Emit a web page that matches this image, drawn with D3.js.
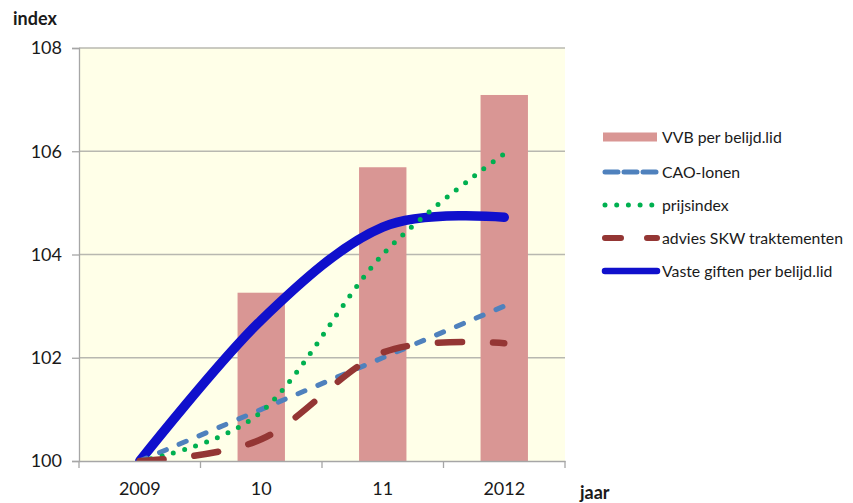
<!DOCTYPE html>
<html>
<head>
<meta charset="utf-8">
<script src="https://cdn.jsdelivr.net/npm/d3@7"></script>
<style>
  body { margin: 0; background: #fff; }
  text { font-family: Lato, "Open Sans", sans-serif; fill: #1a1a1a; }
</style>
</head>
<body>
<div id="chart"></div>
<script>
// categories and series
var years = ["2009", "10", "11", "2012"];
var vvb = [100, 103.26, 105.69, 107.09];
var caoLonen = [100, 101.0, 102.0, 103.0];
var prijsindex = [100, 100.95, 104.0, 105.95];
var adviesSKW = [100, 100.42, 102.1, 102.28];
var vasteGiften = [100, 102.73, 104.53, 104.72];
var yTicks = [100, 102, 104, 106, 108];

var width = 853, height = 503;
var plotLeft = 79, plotRight = 565, plotTop = 48, plotBottom = 461;

var svg = d3.select("#chart").append("svg")
    .attr("width", width)
    .attr("height", height);

var x = d3.scaleBand().domain(years).range([plotLeft, plotRight]);
var y = d3.scaleLinear().domain([100, 108]).range([plotBottom, plotTop]);
var cx = function(i){ return x(years[i]) + x.bandwidth() / 2; };

// plot area
svg.append("rect")
    .attr("x", plotLeft).attr("y", plotTop)
    .attr("width", plotRight - plotLeft).attr("height", plotBottom - plotTop)
    .attr("fill", "#FFFFE8");

svg.append("clipPath").attr("id", "plot")
    .append("rect")
    .attr("x", plotLeft).attr("y", plotTop)
    .attr("width", plotRight - plotLeft).attr("height", plotBottom - plotTop);

// gridlines
svg.selectAll(".grid")
    .data(yTicks.slice(1))
    .enter().append("line")
    .attr("x1", plotLeft).attr("x2", plotRight)
    .attr("y1", function(d){ return y(d); })
    .attr("y2", function(d){ return y(d); })
    .attr("stroke", "#B8B8B0")
    .attr("stroke-width", 1.5);

// bars
var barW = x.bandwidth() * 0.39;
svg.selectAll(".bar")
    .data(vvb)
    .enter().append("rect")
    .attr("class", "bar")
    .attr("x", function(d, i){ return cx(i) - barW / 2; })
    .attr("y", function(d){ return y(d); })
    .attr("width", barW)
    .attr("height", function(d){ return plotBottom - y(d); })
    .attr("fill", "#D99694");

// lines
var line = d3.line()
    .x(function(d, i){ return cx(i); })
    .y(function(d){ return y(d); })
    .curve(d3.curveCardinal.tension(0));

var g = svg.append("g").attr("clip-path", "url(#plot)");

var series = [
    {data: vasteGiften, color: "#1010CC", w: 9.5, dash: null},
    {data: caoLonen, color: "#4F81BD", w: 5, dash: "7.5,14"},
    {data: prijsindex, color: "#00B050", w: 5, dash: "0,11.6"},
    {data: adviesSKW, color: "#943634", w: 6.5, dash: "24,31"}
];

series.forEach(function(s){
    g.append("path")
        .attr("d", line(s.data))
        .attr("fill", "none")
        .attr("stroke", s.color)
        .attr("stroke-width", s.w)
        .attr("stroke-linecap", "round")
        .attr("stroke-dasharray", s.dash);
});

// y axis
var yAxis = svg.append("g")
    .attr("transform", "translate(" + plotLeft + ",0)")
    .call(d3.axisLeft(y).tickValues(yTicks).tickSize(7).tickPadding(10).tickFormat(d3.format("d")));
yAxis.select(".domain").attr("stroke", "#A6A6A6").attr("stroke-width", 1.3);
yAxis.selectAll(".tick line").attr("stroke", "#A6A6A6").attr("stroke-width", 1.3);
yAxis.selectAll("text").style("font-size", "18px").attr("fill", "#1a1a1a").attr("font-family", null);

// x axis
var xAxis = svg.append("g")
    .attr("transform", "translate(0," + plotBottom + ")")
    .call(d3.axisBottom(x).tickSize(0).tickPadding(0));
xAxis.select(".domain").attr("stroke", "#A6A6A6").attr("stroke-width", 1.3);
xAxis.selectAll("text")
    .attr("y", 34).attr("dy", 0)
    .style("font-size", "18px").attr("fill", "#1a1a1a").attr("font-family", null);

var bounds = years.map(function(c){ return x(c); }).concat([plotRight]);
xAxis.selectAll(".xtick")
    .data(bounds)
    .enter().append("line")
    .attr("x1", function(d){ return d; })
    .attr("x2", function(d){ return d; })
    .attr("y1", 0).attr("y2", 7)
    .attr("stroke", "#A6A6A6").attr("stroke-width", 1.3);

// axis titles
svg.append("text").attr("x", 13).attr("y", 25)
    .style("font-size", "18px").style("font-weight", "bold")
    .text("index");
svg.append("text").attr("x", 580).attr("y", 499)
    .style("font-size", "18px").style("font-weight", "bold")
    .text("jaar");

// legend
var legendItems = [
    {label: "VVB per belijd.lid", type: "bar", color: "#D99694"},
    {label: "CAO-lonen", type: "line", color: "#4F81BD", w: 5, dash: "13,6"},
    {label: "prijsindex", type: "line", color: "#00B050", w: 5, dash: "0,11.7"},
    {label: "advies SKW traktementen", type: "line", color: "#943634", w: 6, dash: "16,26"},
    {label: "Vaste giften per belijd.lid", type: "line", color: "#1010CC", w: 6.5, dash: null}
];
var legendY = [137, 172, 205, 238, 271];

var lg = svg.selectAll(".legend")
    .data(legendItems)
    .enter().append("g")
    .attr("transform", function(d, i){ return "translate(603," + legendY[i] + ")"; });

lg.filter(function(d){ return d.type === "bar"; })
    .append("rect")
    .attr("x", 0).attr("y", -4.5)
    .attr("width", 54).attr("height", 9)
    .attr("fill", function(d){ return d.color; });

lg.filter(function(d){ return d.type === "line"; })
    .append("line")
    .attr("x1", 2).attr("x2", 54)
    .attr("y1", 0).attr("y2", 0)
    .attr("stroke", function(d){ return d.color; })
    .attr("stroke-width", function(d){ return d.w; })
    .attr("stroke-linecap", "round")
    .attr("stroke-dasharray", function(d){ return d.dash; });

lg.append("text")
    .attr("x", 59).attr("y", 0).attr("dy", "0.35em")
    .style("font-size", "15.8px")
    .text(function(d){ return d.label; });
</script>
</body>
</html>
